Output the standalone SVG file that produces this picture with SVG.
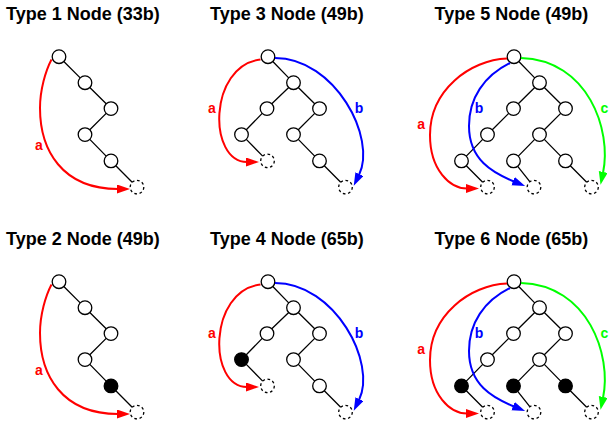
<svg xmlns="http://www.w3.org/2000/svg" width="613" height="428" viewBox="0 0 613 428">
<style>
.title{font-family:"Liberation Sans",Arial,sans-serif;font-weight:bold;font-size:18px;fill:#000}
.lbl{font-family:"Liberation Sans",Arial,sans-serif;font-weight:bold;font-size:14px;text-anchor:middle}
.n{fill:#fff;stroke:#000;stroke-width:1.3}
.k{fill:#000;stroke:#000;stroke-width:1.3}
.d{fill:#fff;stroke:#000;stroke-width:1.3;stroke-dasharray:2.7 2.6}
.e{stroke:#000;stroke-width:1.3;fill:none}
.ra{stroke:#ff0000;stroke-width:2;fill:none;marker-end:url(#mr)}
.ba{stroke:#0000ff;stroke-width:2;fill:none;marker-end:url(#mb)}
.ga{stroke:#00ff00;stroke-width:2;fill:none;marker-end:url(#mg)}
</style>
<defs>
<marker id="mr" markerUnits="userSpaceOnUse" markerWidth="14" markerHeight="10" refX="1" refY="4.5" orient="auto"><path d="M0,0 L13,4.5 L0,9 z" fill="#ff0000"/></marker>
<marker id="mb" markerUnits="userSpaceOnUse" markerWidth="14" markerHeight="10" refX="1" refY="4.5" orient="auto"><path d="M0,0 L13,4.5 L0,9 z" fill="#0000ff"/></marker>
<marker id="mg" markerUnits="userSpaceOnUse" markerWidth="14" markerHeight="10" refX="1" refY="4.5" orient="auto"><path d="M0,0 L13,4.5 L0,9 z" fill="#00ff00"/></marker>
</defs>

<!-- Type 1 -->
<g id="type1">
<text class="title" x="6" y="19.5">Type 1 Node (33b)</text>
<g id="t1-n0"><circle class="n" cx="59" cy="56.7" r="6.8"/></g>
<g id="t1-n1"><circle class="n" cx="85" cy="82.7" r="6.8"/></g>
<g id="t1-n2"><circle class="n" cx="111" cy="108.6" r="6.8"/></g>
<g id="t1-n3"><circle class="n" cx="85" cy="134.6" r="6.8"/></g>
<g id="t1-n4"><circle class="n" cx="111" cy="160.9" r="6.8"/></g>
<g id="t1-nd"><circle class="d" cx="137" cy="187.1" r="6.8"/></g>
<g id="t1-connectors">
<path class="e" d="M63.8,61.5 L80.2,77.9 M89.8,87.5 L106.2,103.8 M106.2,113.4 L89.8,129.8 M89.8,139.4 L106.2,156.1 M115.8,165.7 L132.2,182.3"/>
<path class="ra" d="M51.5,59.5 C45.5,71 40,90 40,108 C40,150 62,189 118,189"/>
<text class="lbl" x="39" y="150" fill="#ff0000">a</text>
</g>
</g>

<!-- Type 3 -->
<g id="type3">
<text class="title" x="210" y="19.5">Type 3 Node (49b)</text>
<g id="t3-n0"><circle class="n" cx="268" cy="56.7" r="6.8"/></g>
<g id="t3-n1"><circle class="n" cx="293.5" cy="82.7" r="6.8"/></g>
<g id="t3-n2l"><circle class="n" cx="267" cy="108.6" r="6.8"/></g>
<g id="t3-n2r"><circle class="n" cx="319.5" cy="108.6" r="6.8"/></g>
<g id="t3-n3l"><circle class="n" cx="241.5" cy="134.6" r="6.8"/></g>
<g id="t3-n3r"><circle class="n" cx="293.5" cy="134.6" r="6.8"/></g>
<g id="t3-ndl"><circle class="d" cx="267.5" cy="160.9" r="6.8"/></g>
<g id="t3-n4r"><circle class="n" cx="319.5" cy="160.9" r="6.8"/></g>
<g id="t3-ndr"><circle class="d" cx="345.5" cy="187.1" r="6.8"/></g>
<g id="t3-connectors">
<path class="e" d="M272.8,61.5 L288.7,77.9 M288.7,87.5 L271.8,103.8 M298.3,87.5 L314.7,103.8 M262.2,113.4 L246.3,129.8 M246.3,139.4 L262.7,156.1 M314.7,113.4 L298.3,129.8 M298.3,139.4 L314.7,156.1 M324.3,165.7 L340.7,182.3"/>
<path class="ra" d="M260.5,59.5 C208,66 208,162 247,162"/>
<path class="ba" d="M275,58 C335,58 377,138 359,175"/>
<text class="lbl" x="212" y="113.3" fill="#ff0000">a</text>
<text class="lbl" x="359" y="113.3" fill="#0000ff">b</text>
</g>
</g>

<!-- Type 5 -->
<g id="type5">
<text class="title" x="434.5" y="19.5">Type 5 Node (49b)</text>
<g id="t5-n0"><circle class="n" cx="514" cy="56.7" r="6.8"/></g>
<g id="t5-n1"><circle class="n" cx="539.5" cy="82.7" r="6.8"/></g>
<g id="t5-n2l"><circle class="n" cx="513.5" cy="108.6" r="6.8"/></g>
<g id="t5-n2r"><circle class="n" cx="565.5" cy="108.6" r="6.8"/></g>
<g id="t5-n3l"><circle class="n" cx="487.5" cy="134.6" r="6.8"/></g>
<g id="t5-n3r"><circle class="n" cx="539.5" cy="134.6" r="6.8"/></g>
<g id="t5-n4a"><circle class="n" cx="461.5" cy="160.9" r="6.8"/></g>
<g id="t5-n4b"><circle class="n" cx="513.5" cy="160.9" r="6.8"/></g>
<g id="t5-n4c"><circle class="n" cx="565.5" cy="160.9" r="6.8"/></g>
<g id="t5-nd1"><circle class="d" cx="487.5" cy="187.1" r="6.8"/></g>
<g id="t5-nd2"><circle class="d" cx="534" cy="187.1" r="6.8"/></g>
<g id="t5-nd3"><circle class="d" cx="591.5" cy="187.1" r="6.8"/></g>
<g id="t5-connectors">
<path class="e" d="M518.8,61.5 L534.7,77.9 M534.7,87.5 L518.3,103.8 M544.3,87.5 L560.7,103.8 M508.7,113.4 L492.3,129.8 M482.7,139.4 L466.3,156.1 M466.3,165.7 L482.7,182.3 M560.7,113.4 L544.3,129.8 M534.7,139.4 L518.3,156.1 M544.3,139.4 L560.7,156.1 M517.7,166.3 L529.8,181.7 M570.3,165.7 L586.7,182.3"/>
<path class="ra" d="M507,58.5 C470,60 430,90 430,135 C430,170 450,188.5 467,188.5"/>
<path class="ba" d="M510,63 C484,76 469,98 469,126 C469,160 493,173 514,181.5"/>
<path class="ga" d="M521,58 C588,60 612,130 603,173"/>
<text class="lbl" x="421.2" y="129" fill="#ff0000">a</text>
<text class="lbl" x="479" y="113.3" fill="#0000ff">b</text>
<text class="lbl" x="604.5" y="113.3" fill="#00ff00">c</text>
</g>
</g>

<!-- Type 2 -->
<g id="type2" transform="translate(0,225)">
<text class="title" x="6" y="19.5">Type 2 Node (49b)</text>
<g id="t2-n0"><circle class="n" cx="59" cy="56.7" r="6.8"/></g>
<g id="t2-n1"><circle class="n" cx="85" cy="82.7" r="6.8"/></g>
<g id="t2-n2"><circle class="n" cx="111" cy="108.6" r="6.8"/></g>
<g id="t2-n3"><circle class="n" cx="85" cy="134.6" r="6.8"/></g>
<g id="t2-n4"><circle class="k" cx="111" cy="160.9" r="6.8"/></g>
<g id="t2-nd"><circle class="d" cx="137" cy="187.1" r="6.8"/></g>
<g id="t2-connectors">
<path class="e" d="M63.8,61.5 L80.2,77.9 M89.8,87.5 L106.2,103.8 M106.2,113.4 L89.8,129.8 M89.8,139.4 L106.2,156.1 M115.8,165.7 L132.2,182.3"/>
<path class="ra" d="M51.5,59.5 C45.5,71 40,90 40,108 C40,150 62,189 118,189"/>
<text class="lbl" x="39" y="150" fill="#ff0000">a</text>
</g>
</g>

<!-- Type 4 -->
<g id="type4" transform="translate(0,225)">
<text class="title" x="210" y="19.5">Type 4 Node (65b)</text>
<g id="t4-n0"><circle class="n" cx="268" cy="56.7" r="6.8"/></g>
<g id="t4-n1"><circle class="n" cx="293.5" cy="82.7" r="6.8"/></g>
<g id="t4-n2l"><circle class="n" cx="267" cy="108.6" r="6.8"/></g>
<g id="t4-n2r"><circle class="n" cx="319.5" cy="108.6" r="6.8"/></g>
<g id="t4-n3l"><circle class="k" cx="241.5" cy="134.6" r="6.8"/></g>
<g id="t4-n3r"><circle class="n" cx="293.5" cy="134.6" r="6.8"/></g>
<g id="t4-ndl"><circle class="d" cx="267.5" cy="160.9" r="6.8"/></g>
<g id="t4-n4r"><circle class="n" cx="319.5" cy="160.9" r="6.8"/></g>
<g id="t4-ndr"><circle class="d" cx="345.5" cy="187.1" r="6.8"/></g>
<g id="t4-connectors">
<path class="e" d="M272.8,61.5 L288.7,77.9 M288.7,87.5 L271.8,103.8 M298.3,87.5 L314.7,103.8 M262.2,113.4 L246.3,129.8 M246.3,139.4 L262.7,156.1 M314.7,113.4 L298.3,129.8 M298.3,139.4 L314.7,156.1 M324.3,165.7 L340.7,182.3"/>
<path class="ra" d="M260.5,59.5 C208,66 208,162 247,162"/>
<path class="ba" d="M275,58 C335,58 377,138 359,175"/>
<text class="lbl" x="212" y="113.3" fill="#ff0000">a</text>
<text class="lbl" x="359" y="113.3" fill="#0000ff">b</text>
</g>
</g>

<!-- Type 6 -->
<g id="type6" transform="translate(0,225)">
<text class="title" x="434.5" y="19.5">Type 6 Node (65b)</text>
<g id="t6-n0"><circle class="n" cx="514" cy="56.7" r="6.8"/></g>
<g id="t6-n1"><circle class="n" cx="539.5" cy="82.7" r="6.8"/></g>
<g id="t6-n2l"><circle class="n" cx="513.5" cy="108.6" r="6.8"/></g>
<g id="t6-n2r"><circle class="n" cx="565.5" cy="108.6" r="6.8"/></g>
<g id="t6-n3l"><circle class="n" cx="487.5" cy="134.6" r="6.8"/></g>
<g id="t6-n3r"><circle class="n" cx="539.5" cy="134.6" r="6.8"/></g>
<g id="t6-n4a"><circle class="k" cx="461.5" cy="160.9" r="6.8"/></g>
<g id="t6-n4b"><circle class="k" cx="513.5" cy="160.9" r="6.8"/></g>
<g id="t6-n4c"><circle class="k" cx="565.5" cy="160.9" r="6.8"/></g>
<g id="t6-nd1"><circle class="d" cx="487.5" cy="187.1" r="6.8"/></g>
<g id="t6-nd2"><circle class="d" cx="534" cy="187.1" r="6.8"/></g>
<g id="t6-nd3"><circle class="d" cx="591.5" cy="187.1" r="6.8"/></g>
<g id="t6-connectors">
<path class="e" d="M518.8,61.5 L534.7,77.9 M534.7,87.5 L518.3,103.8 M544.3,87.5 L560.7,103.8 M508.7,113.4 L492.3,129.8 M482.7,139.4 L466.3,156.1 M466.3,165.7 L482.7,182.3 M560.7,113.4 L544.3,129.8 M534.7,139.4 L518.3,156.1 M544.3,139.4 L560.7,156.1 M517.7,166.3 L529.8,181.7 M570.3,165.7 L586.7,182.3"/>
<path class="ra" d="M507,58.5 C470,60 430,90 430,135 C430,170 450,188.5 467,188.5"/>
<path class="ba" d="M510,63 C484,76 469,98 469,126 C469,160 493,173 514,181.5"/>
<path class="ga" d="M521,58 C588,60 612,130 603,173"/>
<text class="lbl" x="421.2" y="129" fill="#ff0000">a</text>
<text class="lbl" x="479" y="113.3" fill="#0000ff">b</text>
<text class="lbl" x="604.5" y="113.3" fill="#00ff00">c</text>
</g>
</g>
</svg>
